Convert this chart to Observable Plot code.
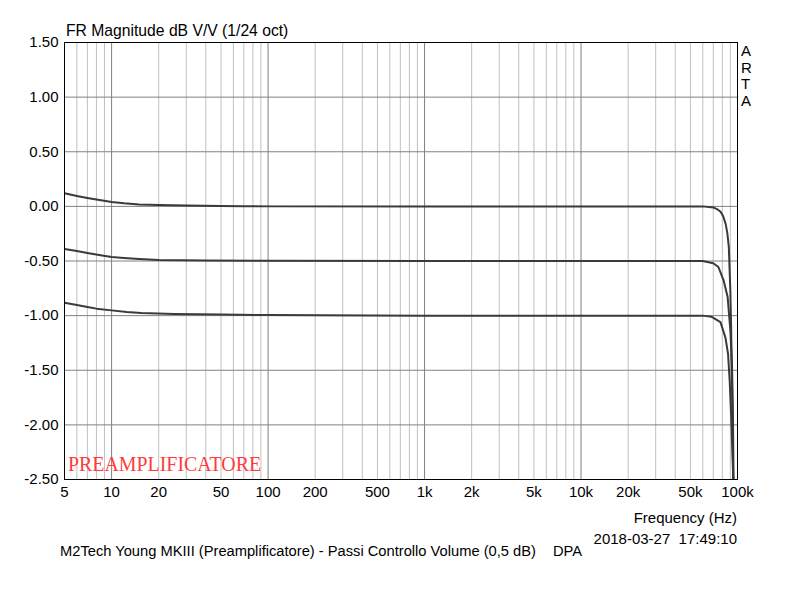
<!DOCTYPE html>
<html>
<head>
<meta charset="utf-8">
<script src="https://cdn.jsdelivr.net/npm/d3@7"></script>
<script src="https://cdn.jsdelivr.net/npm/@observablehq/plot@0.6"></script>
<style>
  html, body { margin: 0; padding: 0; background: #fff; }
  #chart svg { display: block; }
</style>
</head>
<body>
<div id="chart"></div>
<script>
// ---- data ----
const xTickValues = [5, 10, 20, 50, 100, 200, 500, 1000, 2000, 5000, 10000, 20000, 50000, 100000];
const xTickLabels = ["5", "10", "20", "50", "100", "200", "500", "1k", "2k", "5k", "10k", "20k", "50k", "100k"];
const yTickValues = [-2.5, -2, -1.5, -1, -0.5, 0, 0.5, 1, 1.5];

const freqTop = [5, 6, 7, 8, 10, 12, 15, 20, 30, 50, 70, 100, 1000, 10000, 50000, 60000, 70000, 75000, 78000, 81000, 84000, 86000, 88000, 90000, 91000, 92000, 93000, 94000];
const dbTop   = [0.12, 0.095, 0.077, 0.062, 0.04, 0.028, 0.018, 0.012, 0.007, 0.004, 0.002, 0.0, 0.0, 0.0, 0.0, 0.0, -0.01, -0.03, -0.05, -0.09, -0.16, -0.24, -0.37, -0.77, -1.1, -1.5, -2.0, -2.6];

const freqMid = [5, 6, 7, 8.5, 10, 12, 15, 20, 40, 100, 1000, 10000, 60000, 70000, 75500, 81600, 86500, 90000, 92300, 93500, 94500];
const dbMid   = [-0.39, -0.409, -0.427, -0.448, -0.464, -0.473, -0.482, -0.491, -0.496, -0.498, -0.5, -0.5, -0.5, -0.52, -0.555, -0.68, -0.83, -1.13, -1.47, -1.9, -2.6];

const freqLow = [5, 6, 7, 8, 10, 12.5, 15.5, 25, 50, 100, 1000, 10000, 60000, 68000, 77800, 83700, 87000, 89100, 91000, 93000, 94500];
const dbLow   = [-0.882, -0.903, -0.921, -0.936, -0.952, -0.967, -0.976, -0.985, -0.99, -0.995, -1.0, -1.0, -1.0, -1.01, -1.06, -1.2, -1.35, -1.59, -1.9, -2.3, -2.6];

const seriesNames = ["top", "mid", "low"];

// ---- build table ----
const rows = [];
[[freqTop, dbTop], [freqMid, dbMid], [freqLow, dbLow]].forEach(([f, d], i) => {
  f.forEach((v, j) => rows.push({series: seriesNames[i], f: v, db: d[j]}));
});

// grid positions: 1..9 per decade within domain
const minorGrid = [], majorGrid = [];
for (let e = 0; e <= 5; e++) {
  for (let m = 1; m <= 9; m++) {
    const v = m * Math.pow(10, e);
    if (v < 5 || v > 100000) continue;
    if (m === 1) majorGrid.push(v); else minorGrid.push(v);
  }
}

const W = 800, H = 602;
const mL = 64, mR = 63, mT = 42, mB = 123;

const plot = Plot.plot({
  width: W,
  height: H,
  marginLeft: mL,
  marginRight: mR,
  marginTop: mT,
  marginBottom: mB,
  style: {fontFamily: "'Liberation Sans', Arial, sans-serif", fontSize: "15px", background: "#fff", color: "#000"},
  x: {type: "log", domain: [5, 100000], axis: null},
  y: {domain: [-2.5, 1.5], axis: null},
  marks: [
    Plot.ruleX(minorGrid, {x: d => d, stroke: "#c0c0c0", strokeWidth: 1}),
    Plot.ruleX(majorGrid, {x: d => d, stroke: "#808080", strokeWidth: 1}),
    Plot.ruleY(yTickValues, {y: d => d, stroke: "#808080", strokeWidth: 1}),
    Plot.line(rows, {x: "f", y: "db", z: "series", stroke: "#3a3a3a", strokeWidth: 2, clip: true}),
    Plot.text(xTickValues, {x: d => d, text: (d, i) => xTickLabels[i], frameAnchor: "bottom", dy: 17, fontSize: 15, fill: "#000", textAnchor: "middle"}),
    Plot.text(yTickValues, {y: d => d, text: d => d.toFixed(2), frameAnchor: "left", dx: -6, fontSize: 15, fill: "#000", textAnchor: "end"}),
    Plot.frame({stroke: "#000", strokeWidth: 1})
  ]
});

document.getElementById("chart").appendChild(plot);

// ---- annotation texts ----
const svg = d3.select(plot);
const ff = "'Liberation Sans', Arial, sans-serif";
function addText(x, y, str, opts = {}) {
  return svg.append("text").attr("x", x).attr("y", y)
    .attr("text-anchor", opts.anchor || "start")
    .attr("font-family", opts.family || ff)
    .attr("font-size", opts.size || 15)
    .attr("fill", opts.fill || "#000")
    .style("white-space", "pre")
    .text(str);
}
addText(66, 36, "FR Magnitude dB V/V (1/24 oct)", {size: 15.7});
["A", "R", "T", "A"].forEach((c, i) => addText(741, 56 + i * 16.5, c));
addText(68, 471, "PREAMPLIFICATORE", {family: "'Liberation Serif', 'Times New Roman', serif", size: 19.9, fill: "#ff3b3b"});
addText(737, 523, "Frequency (Hz)", {anchor: "end"});
addText(737, 544, "2018-03-27  17:49:10", {anchor: "end"});
addText(60, 556, "M2Tech Young MKIII (Preamplificatore) - Passi Controllo Volume (0,5 dB)", {size: 14.7});
addText(553, 556, "DPA", {size: 14.7});
</script>
</body>
</html>
